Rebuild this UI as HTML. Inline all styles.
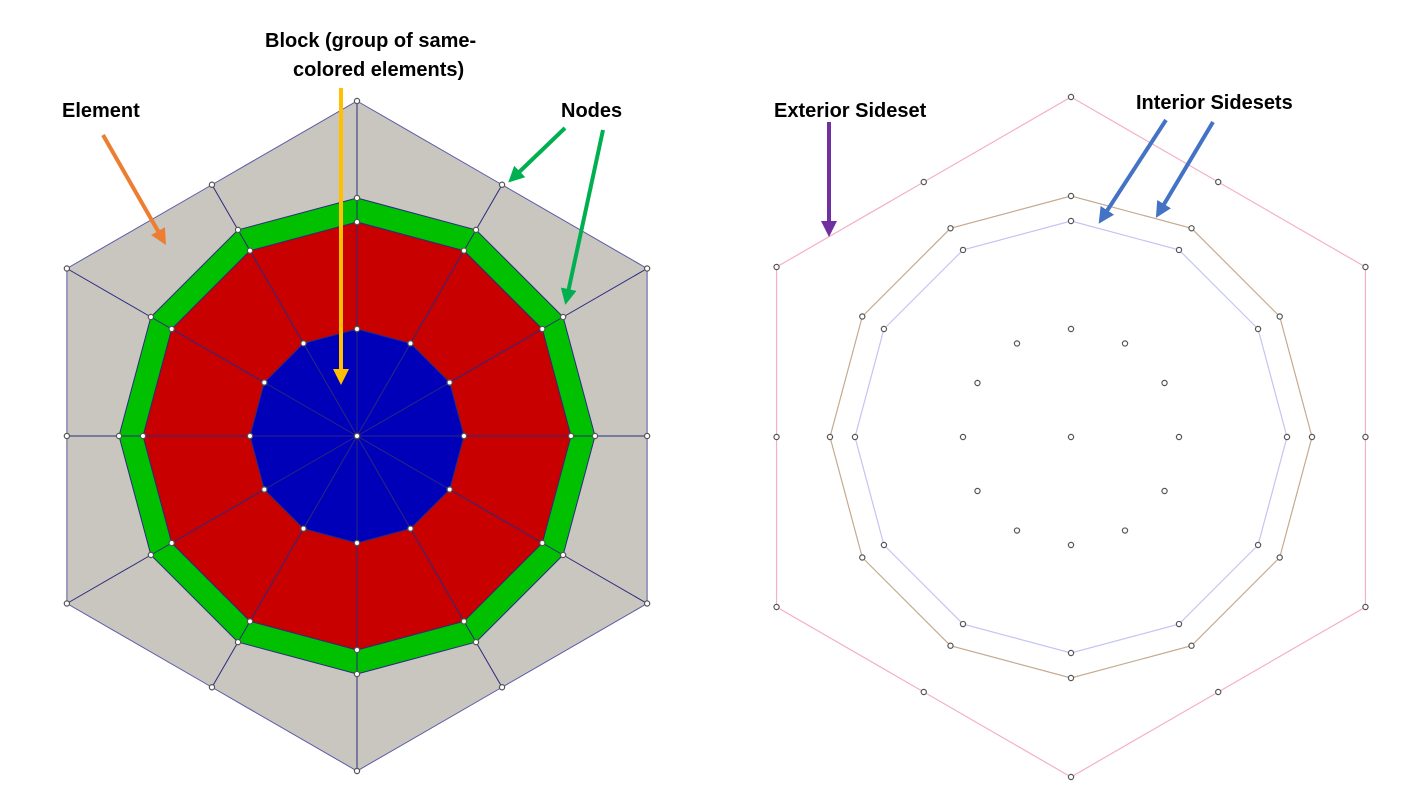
<!DOCTYPE html>
<html><head><meta charset="utf-8"><style>
body{margin:0;background:#fff}
svg{display:block}
text{font-family:"Liberation Sans",sans-serif;font-weight:bold;font-size:20px;fill:#000}
</style></head><body>
<svg id="s" width="1425" height="794" viewBox="0 0 1425 794">
<defs>
<marker id="ao" markerWidth="4" markerHeight="4" refX="2" refY="2" orient="auto" markerUnits="strokeWidth"><path d="M0,0L4,2L0,4z" fill="#ed7d31"/></marker>
<marker id="ay" markerWidth="4" markerHeight="4" refX="2" refY="2" orient="auto" markerUnits="strokeWidth"><path d="M0,0L4,2L0,4z" fill="#ffc000"/></marker>
<marker id="ag" markerWidth="4" markerHeight="4" refX="2" refY="2" orient="auto" markerUnits="strokeWidth"><path d="M0,0L4,2L0,4z" fill="#00b050"/></marker>
<marker id="ap" markerWidth="4" markerHeight="4" refX="2" refY="2" orient="auto" markerUnits="strokeWidth"><path d="M0,0L4,2L0,4z" fill="#7030a0"/></marker>
<marker id="ab" markerWidth="4" markerHeight="4" refX="2" refY="2" orient="auto" markerUnits="strokeWidth"><path d="M0,0L4,2L0,4z" fill="#4472c4"/></marker>
</defs>
<g id="L"></g>
<g id="R"></g>
<g id="A">
<line x1="103" y1="135" x2="162" y2="238" stroke="#ed7d31" stroke-width="4" marker-end="url(#ao)"/>
<line x1="341" y1="88" x2="341" y2="377" stroke="#ffc000" stroke-width="4" marker-end="url(#ay)"/>
<line x1="565" y1="128" x2="514" y2="177" stroke="#00b050" stroke-width="4" marker-end="url(#ag)"/>
<line x1="603" y1="130" x2="567" y2="297" stroke="#00b050" stroke-width="4" marker-end="url(#ag)"/>
<line x1="829" y1="122" x2="829" y2="229" stroke="#7030a0" stroke-width="4" marker-end="url(#ap)"/>
<line x1="1166" y1="120" x2="1103" y2="217" stroke="#4472c4" stroke-width="4" marker-end="url(#ab)"/>
<line x1="1213" y1="122" x2="1160" y2="211" stroke="#4472c4" stroke-width="4" marker-end="url(#ab)"/>
<text x="62" y="117">Element</text>
<text x="265" y="47">Block (group of same-</text>
<text x="293" y="76">colored elements)</text>
<text x="561" y="117">Nodes</text>
<text x="774" y="117">Exterior Sideset</text>
<text x="1136" y="109">Interior Sidesets</text>
</g>
</svg>
<script>
const NS="http://www.w3.org/2000/svg";
const hexR=[335,340];      // outer hexagon vertex radius (left, right)
const greenOuter=[238,241];
const greenInner=[214,216];
const blueR=[107,108];
const centers=[[357,436],[1071,437]];
function mk(g,t,a){const e=document.createElementNS(NS,t);for(const k in a)e.setAttribute(k,a[k]);g.appendChild(e);return e;}
function pt(c,r,deg){const a=deg*Math.PI/180;return [c[0]+r*Math.sin(a),c[1]-r*Math.cos(a)];}
function ring(c,r){const p=[];for(let i=0;i<12;i++)p.push(pt(c,r,i*30));return p;}
function hexRing(c,R){const p=[];for(let i=0;i<12;i++){const rr=i%2==0?R:R*Math.cos(Math.PI/6);p.push(pt(c,rr,i*30));}return p;}
function ps(p){return p.map(q=>q.join(',')).join(' ');}
function node(g,q,name){const e=mk(g,'circle',{cx:q[0],cy:q[1],r:2.6,fill:'#fff',stroke:'#555','stroke-width':1.2});

}
// left
const L=document.getElementById('L');const c=centers[0];
const H=hexRing(c,hexR[0]),GO=ring(c,greenOuter[0]),GI=ring(c,greenInner[0]),B=ring(c,blueR[0]);
let e=mk(L,'polygon',{points:ps(H),fill:'#c8c6be',stroke:'#5a5aa8','stroke-width':1});


e=mk(L,'polygon',{points:ps(GO),fill:'#00c000'});


e=mk(L,'polygon',{points:ps(GI),fill:'#c80000'});


e=mk(L,'polygon',{points:ps(B),fill:'#0000b8'});


[GO,GI,B].forEach(p=>mk(L,'polygon',{points:ps(p),fill:'none',stroke:'#2a2a80','stroke-width':1}));
for(let i=0;i<12;i++){
 mk(L,'line',{x1:H[i][0],y1:H[i][1],x2:GO[i][0],y2:GO[i][1],stroke:'#2a2a80','stroke-width':1});
 mk(L,'line',{x1:GO[i][0],y1:GO[i][1],x2:B[i][0],y2:B[i][1],stroke:'#2a2a80','stroke-width':1});
 mk(L,'line',{x1:B[i][0],y1:B[i][1],x2:c[0],y2:c[1],stroke:'#2a2a80','stroke-width':1});
}
[H,GO,GI,B].forEach(p=>p.forEach(q=>node(L,q,'node')));node(L,c,'center-node');
// right
const R=document.getElementById('R');const c2=centers[1];
const H2=hexRing(c2,hexR[1]),T=ring(c2,greenOuter[1]),V=ring(c2,greenInner[1]),B2=ring(c2,blueR[1]);
e=mk(R,'polygon',{points:ps(H2),fill:'none',stroke:'#f4b0c8','stroke-width':1.2});


e=mk(R,'polygon',{points:ps(T),fill:'none',stroke:'#c4aa90','stroke-width':1.2});


e=mk(R,'polygon',{points:ps(V),fill:'none',stroke:'#c4c4f4','stroke-width':1.2});


[H2,T,V,B2].forEach(p=>p.forEach(q=>node(R,q,'node')));node(R,c2,'center-node');
</script>
</body></html>
